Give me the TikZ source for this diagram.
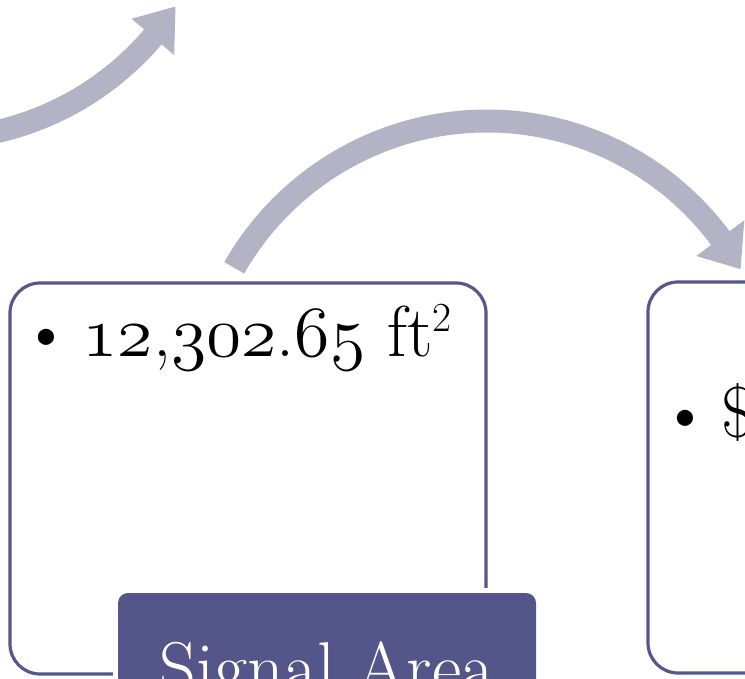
\documentclass[tikz,border=0pt]{standalone}
\usepackage{graphicx}
\definecolor{flowgray}{HTML}{B3B3C6}
\definecolor{frameblue}{HTML}{56588B}
\definecolor{tabblue}{HTML}{545689}
\tikzset{
  flowshaft/.style={draw=flowgray, line width=17.25pt},
  flowhead/.style={fill=flowgray},
  infobox/.style={draw=frameblue, line width=2.4pt, rounded corners=22.5pt, fill=white},
  tabhalo/.style={draw=white, line width=7.5pt, rounded corners=7.5pt},
  tabbox/.style={fill=tabblue, rounded corners=7.5pt},
  bigtext/.style={font=\fontsize{54}{64}\selectfont, inner sep=0pt},
}
% old-style figures: math italic digits at 24.88pt, enlarged to the text size
\newcommand{\osf}[1]{\scalebox{2.17}{\fontsize{24.88}{30}\usefont{OML}{cmm}{m}{it}#1}}
\newcommand{\sqsup}{\raisebox{0.36em}{\fontsize{31}{31}\selectfont 2}}
\newcommand{\bulletgap}{\hspace{8pt}}
\begin{document}
\begin{tikzpicture}[x=0.75pt,y=0.75pt]
\useasboundingbox (0,0) rectangle (745,678);
\clip (0,0) rectangle (745,678);

% incoming arrow, top left
\coordinate (ca) at (-68,829);
\draw[flowshaft] ([shift={(-100:290)}]ca) arc[start angle=-100, end angle=-40, radius=290];
\fill[flowhead] ([shift={(-40.4:262)}]ca) -- ([shift={(-32.9:290)}]ca) -- ([shift={(-40.4:318)}]ca) -- cycle;

% arrow from the first box to the second
\coordinate (cb) at (487,266);
\draw[flowshaft] ([shift={(150.3:291)}]cb) arc[start angle=150.3, end angle=36.2, radius=291];
\fill[flowhead] ([shift={(36.7:261)}]cb) -- ([shift={(29.4:291)}]cb) -- ([shift={(36.7:321)}]cb) -- cycle;

% first box
\draw[infobox] (10,4) rectangle (486,395);
\node[bigtext, anchor=base west] (area) at (20,321)
  {\textbullet\bulletgap\osf{12},\osf{302}.\osf{65} ft\sqsup};

% second box
\draw[infobox] (648,5) rectangle (800,396);
\node[bigtext, anchor=base west] (cost) at (659,240) {\textbullet\bulletgap\$};

% title tab of the first box
\draw[tabhalo] (118,-80) rectangle (536,85);
\fill[tabbox] (118,-80) rectangle (536,85);
\node[bigtext, text=white, anchor=base] (title) at (327,-14) {Signal Area};
\end{tikzpicture}
\end{document}
